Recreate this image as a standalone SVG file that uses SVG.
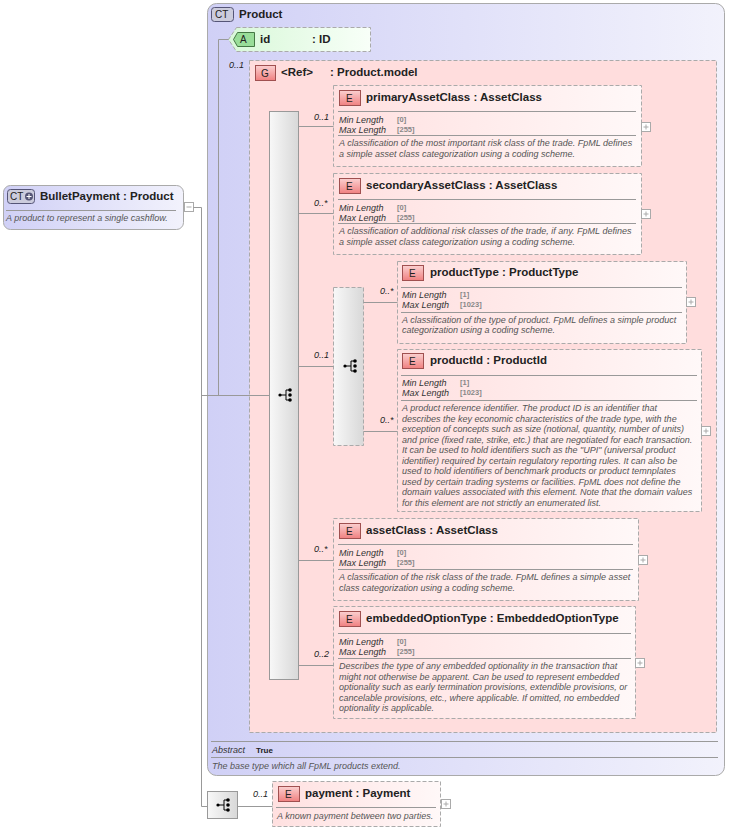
<svg xmlns="http://www.w3.org/2000/svg" width="729" height="832" viewBox="0 0 729 832">
<defs>
<linearGradient id="ct" x1="0" y1="0" x2="1" y2="0"><stop offset="0" stop-color="#d0d0f6"/><stop offset="1" stop-color="#f2f2fc"/></linearGradient>
<linearGradient id="el" x1="0" y1="0" x2="1" y2="0"><stop offset="0" stop-color="#ffe0e0"/><stop offset="1" stop-color="#fff8f8"/></linearGradient>
<linearGradient id="at" x1="0" y1="0" x2="1" y2="0"><stop offset="0" stop-color="#d8f8d8"/><stop offset="1" stop-color="#f8fff8"/></linearGradient>
<linearGradient id="sq" x1="0" y1="0" x2="1" y2="0"><stop offset="0" stop-color="#f8f8f8"/><stop offset="1" stop-color="#d8d8d8"/></linearGradient>
<linearGradient id="eb" x1="0" y1="0" x2="0" y2="1"><stop offset="0" stop-color="#fbd0d0"/><stop offset="1" stop-color="#f08080"/></linearGradient>
<g id="seqicon"><circle cx="-5" cy="0" r="1.6"/><circle cx="5" cy="-5" r="1.8"/><circle cx="5" cy="0" r="1.8"/><circle cx="5" cy="5" r="1.8"/><path d="M-5 0H1M1 -5V5M1 -5H5M1 5H5" stroke="#000" fill="none"/></g>
<g id="plus"><rect x="0" y="0" width="9" height="9" fill="#fff" stroke="#aaa"/><path d="M2 4.5H7M4.5 2V7" stroke="#aaa"/></g>
</defs>
<style>
text{font-family:"Liberation Sans",Arial,sans-serif;fill:#222}
.t{font-weight:bold;font-size:11.5px}
.s{font-style:italic;font-size:9px;fill:#333}
.v{font-size:7.5px;fill:#888;font-weight:bold}
.d{font-style:italic;font-size:9px;fill:#555}
.m{font-style:italic;font-size:9px;fill:#444}
.eb{fill:url(#eb);stroke:#a05050}
.ebox{fill:url(#el);stroke:#aaa;stroke-dasharray:4 2}
.ln{stroke:#999;fill:none}
.sep{stroke:#999}
</style>
<g id="product">
<rect x="207.5" y="3.5" width="517" height="772" rx="9" fill="url(#ct)" stroke="#aaa"/>
<rect x="211.5" y="7.5" width="22" height="14" rx="3" fill="#ccd" stroke="#557"/>
<text x="215" y="18" font-size="10">CT</text>
<text x="239" y="18" class="t">Product</text>
<line class="sep" x1="211" y1="741.5" x2="718" y2="741.5"/>
<text x="212" y="753" class="s">Abstract</text>
<text x="256" y="753" font-size="8" font-weight="bold">True</text>
<line class="sep" x1="211" y1="757.5" x2="718" y2="757.5"/>
<text x="212" y="769" class="d">The base type which all FpML products extend.</text>
</g>
<g id="id">
<path d="M236.5 27.5H370.5V51.5H236.5L228.5 39.5Z" fill="url(#at)" stroke="#aaa" stroke-dasharray="4 2"/>
<path d="M237.5 32.5H254.5V46.5H237.5L233.5 39.5Z" fill="#9d9" stroke="#474"/>
<text x="240" y="43" font-size="10">A</text>
<text x="260" y="43" class="t">id</text>
<text x="312" y="43" class="t">: ID</text>
</g>
<g id="group">
<rect x="249.5" y="60.5" width="467" height="672" fill="#fdd" stroke="#aaa" stroke-dasharray="4 2"/>
<rect x="255.5" y="65.5" width="20" height="15" class="eb"/>
<text x="261" y="77" font-size="10">G</text>
<text x="281" y="76" class="t">&lt;Ref&gt;</text>
<text x="330" y="76" class="t">: Product.model</text>
</g>
<g id="seq1">
<rect x="269.5" y="111.5" width="29" height="568" fill="url(#sq)" stroke="#999"/>
<use href="#seqicon" x="285" y="395"/>
</g>
<g id="primaryAssetClass">
<rect x="333.5" y="85.5" width="308" height="81" class="ebox"/>
<rect x="339.5" y="90.5" width="21" height="15" class="eb"/><text x="346" y="102" font-size="10">E</text>
<text x="366" y="101" class="t">primaryAssetClass : AssetClass</text>
<line class="sep" x1="338" y1="111.5" x2="636" y2="111.5"/>
<text x="339" y="123" class="s">Min Length</text><text x="397" y="122" class="v">[0]</text>
<text x="339" y="133" class="s">Max Length</text><text x="397" y="132" class="v">[255]</text>
<line class="sep" x1="338" y1="135.5" x2="636" y2="135.5"/>
<text x="339" y="146" class="d">A classification of the most important risk class of the trade. FpML defines</text>
<text x="339" y="157" class="d">a simple asset class categorization using a coding scheme.</text>
<use href="#plus" x="641.5" y="122.5"/>
</g>
<g id="secondaryAssetClass">
<rect x="333.5" y="173.5" width="308" height="81" class="ebox"/>
<rect x="339.5" y="178.5" width="21" height="15" class="eb"/><text x="346" y="190" font-size="10">E</text>
<text x="366" y="189" class="t">secondaryAssetClass : AssetClass</text>
<line class="sep" x1="338" y1="199.5" x2="636" y2="199.5"/>
<text x="339" y="211" class="s">Min Length</text><text x="397" y="210" class="v">[0]</text>
<text x="339" y="221" class="s">Max Length</text><text x="397" y="220" class="v">[255]</text>
<line class="sep" x1="338" y1="223.5" x2="636" y2="223.5"/>
<text x="339" y="234" class="d">A classification of additional risk classes of the trade, if any. FpML defines</text>
<text x="339" y="245" class="d">a simple asset class categorization using a coding scheme.</text>
<use href="#plus" x="641.5" y="209.5"/>
</g>
<g id="seq2">
<rect x="333.5" y="287.5" width="30" height="158" fill="url(#sq)" stroke="#aaa" stroke-dasharray="4 2"/>
<use href="#seqicon" x="350" y="366"/>
</g>
<g id="productType">
<rect x="397.5" y="261.5" width="289" height="82" class="ebox"/>
<rect x="402.5" y="265.5" width="21" height="15" class="eb"/><text x="409" y="277" font-size="10">E</text>
<text x="430" y="276" class="t">productType : ProductType</text>
<line class="sep" x1="401" y1="287.5" x2="682" y2="287.5"/>
<text x="402" y="298" class="s">Min Length</text><text x="460" y="297" class="v">[1]</text>
<text x="402" y="308" class="s">Max Length</text><text x="460" y="307" class="v">[1023]</text>
<line class="sep" x1="401" y1="312.5" x2="682" y2="312.5"/>
<text x="402" y="323" class="d">A classification of the type of product. FpML defines a simple product</text>
<text x="402" y="333" class="d">categorization using a coding scheme.</text>
<use href="#plus" x="686.5" y="297.5"/>
</g>
<g id="productId">
<rect x="397.5" y="349.5" width="304" height="162" class="ebox"/>
<rect x="402.5" y="353.5" width="21" height="15" class="eb"/><text x="409" y="365" font-size="10">E</text>
<text x="430" y="364" class="t">productId : ProductId</text>
<line class="sep" x1="401" y1="375.5" x2="697" y2="375.5"/>
<text x="402" y="386" class="s">Min Length</text><text x="460" y="385" class="v">[1]</text>
<text x="402" y="396" class="s">Max Length</text><text x="460" y="395" class="v">[1023]</text>
<line class="sep" x1="401" y1="400.5" x2="697" y2="400.5"/>
<text class="d"><tspan x="402" y="411">A product reference identifier. The product ID is an identifier that</tspan><tspan x="402" y="422">describes the key economic characteristics of the trade type, with the</tspan><tspan x="402" y="432">exception of concepts such as size (notional, quantity, number of units)</tspan><tspan x="402" y="443">and price (fixed rate, strike, etc.) that are negotiated for each transaction.</tspan><tspan x="402" y="453">It can be used to hold identifiers such as the "UPI" (universal product</tspan><tspan x="402" y="464">identifier) required by certain regulatory reporting rules. It can also be</tspan><tspan x="402" y="474">used to hold identifiers of benchmark products or product temnplates</tspan><tspan x="402" y="485">used by certain trading systems or facilities. FpML does not define the</tspan><tspan x="402" y="495">domain values associated with this element. Note that the domain values</tspan><tspan x="402" y="506">for this element are not strictly an enumerated list.</tspan></text>
<use href="#plus" x="701.5" y="426.5"/>
</g>
<g id="assetClass">
<rect x="333.5" y="518.5" width="305" height="82" class="ebox"/>
<rect x="339.5" y="523.5" width="21" height="15" class="eb"/><text x="346" y="535" font-size="10">E</text>
<text x="366" y="534" class="t">assetClass : AssetClass</text>
<line class="sep" x1="338" y1="544.5" x2="633" y2="544.5"/>
<text x="339" y="556" class="s">Min Length</text><text x="397" y="555" class="v">[0]</text>
<text x="339" y="566" class="s">Max Length</text><text x="397" y="565" class="v">[255]</text>
<line class="sep" x1="338" y1="569.5" x2="633" y2="569.5"/>
<text x="339" y="580" class="d">A classification of the risk class of the trade. FpML defines a simple asset</text>
<text x="339" y="591" class="d">class categorization using a coding scheme.</text>
<use href="#plus" x="638.5" y="555.5"/>
</g>
<g id="embeddedOptionType">
<rect x="333.5" y="606.5" width="302" height="112" class="ebox"/>
<rect x="339.5" y="611.5" width="21" height="15" class="eb"/><text x="346" y="623" font-size="10">E</text>
<text x="366" y="622" class="t">embeddedOptionType : EmbeddedOptionType</text>
<line class="sep" x1="338" y1="633.5" x2="631" y2="633.5"/>
<text x="339" y="645" class="s">Min Length</text><text x="397" y="644" class="v">[0]</text>
<text x="339" y="655" class="s">Max Length</text><text x="397" y="654" class="v">[255]</text>
<line class="sep" x1="338" y1="658.5" x2="631" y2="658.5"/>
<text class="d"><tspan x="339" y="669">Describes the type of any embedded optionality in the transaction that</tspan><tspan x="339" y="680">might not otherwise be apparent. Can be used to represent embedded</tspan><tspan x="339" y="690">optionality such as early termination provisions, extendible provisions, or</tspan><tspan x="339" y="701">cancelable provisions, etc., where applicable. If omitted, no embedded</tspan><tspan x="339" y="711">optionality is applicable.</tspan></text>
<use href="#plus" x="635.5" y="658.5"/>
</g>
<g id="bulletPayment">
<rect x="3.5" y="185.5" width="180" height="44" rx="7" fill="url(#ct)" stroke="#aaa"/>
<rect x="7.5" y="189.5" width="27" height="14" rx="3" fill="#ccd" stroke="#557"/>
<text x="10" y="200" font-size="10">CT</text><circle cx="29" cy="196.5" r="4" fill="#557"/><path d="M26.5 196.5H31.5M29 194V199" stroke="#fff"/>
<text x="40" y="200" class="t">BulletPayment : Product</text>
<line class="sep" x1="6" y1="210.5" x2="176" y2="210.5"/>
<text x="6" y="221" class="d">A product to represent a single cashflow.</text>
<rect x="184.5" y="202.5" width="9" height="9" fill="#fff" stroke="#aaa"/><path d="M186.5 207H191.5" stroke="#aaa"/>
</g>
<g id="seq3">
<rect x="207.5" y="791.5" width="30" height="27" fill="url(#sq)" stroke="#999"/>
<use href="#seqicon" x="223" y="805"/>
</g>
<g id="payment">
<rect x="272.5" y="781.5" width="168" height="45" class="ebox"/>
<rect x="278.5" y="786.5" width="21" height="15" class="eb"/><text x="285" y="798" font-size="10">E</text>
<text x="305" y="797" class="t">payment : Payment</text>
<line class="sep" x1="276" y1="807.5" x2="436" y2="807.5"/>
<text x="277" y="819" class="d">A known payment between two parties.</text>
<use href="#plus" x="441.5" y="799.5"/>
</g>
<g id="connectors" class="ln">
<path d="M193.5 207.5H201.5V806.5H207.5"/>
<path d="M201.5 395.5H269.5"/>
<path d="M218.5 395.5V39.5H228.5"/>
<path d="M298.5 126.5H333.5M298.5 213.5H333.5M298.5 366.5H333.5M298.5 560.5H333.5M298.5 665.5H333.5"/>
<path d="M363.5 302.5H397.5M363.5 431.5H397.5"/>
<path d="M237.5 806.5H272.5"/>
</g>
<g id="mult" class="m">
<text x="229" y="68">0..1</text>
<text x="314" y="120">0..1</text>
<text x="314" y="206">0..*</text>
<text x="314" y="358">0..1</text>
<text x="380" y="294">0..*</text>
<text x="380" y="423">0..*</text>
<text x="314" y="552">0..*</text>
<text x="314" y="657">0..2</text>
<text x="253" y="797">0..1</text>
</g>
</svg>
